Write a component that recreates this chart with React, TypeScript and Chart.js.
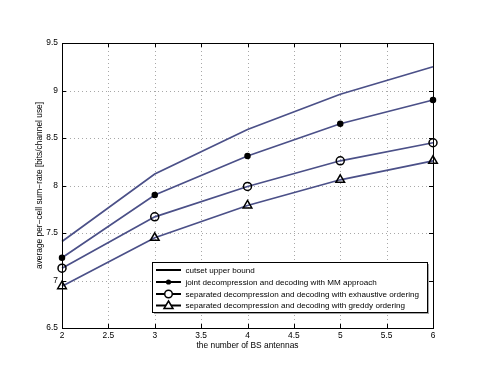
import React, { useEffect, useRef } from "react";
import { Chart, registerables } from "chart.js";
Chart.register(...registerables);

const antennas = [2, 3, 4, 5, 6];
const cutset = [7.41, 8.12, 8.59, 8.96, 9.25];
const jointMM = [7.24, 7.9, 8.31, 8.65, 8.9];
const sepExhaustive = [7.13, 7.67, 7.99, 8.26, 8.45];
const sepGreedy = [6.94, 7.45, 7.79, 8.06, 8.26];
const seriesLabels = [
  "cutset upper bound",
  "joint decompression and decoding with MM approach",
  "separated decompression and decoding with exhaustive ordering",
  "separated decompression and decoding with greddy ordering",
];
const xTitle = "the number of BS antennas";
const yTitle = "average per\u2212cell sum\u2212rate [bits/channel use]";

const FONT = "'Liberation Sans', Arial, Helvetica, sans-serif";
const FS = 8.4;
const LFS = 8.1;
const LINE = "#4b5088";

const toPts = (ys: number[]) => antennas.map((x, i) => ({ x, y: ys[i] }));

const gridPlugin = {
  id: "dottedGrid",
  beforeDatasetsDraw(chart: any) {
    const { ctx, chartArea: a, scales } = chart;
    ctx.save();
    ctx.strokeStyle = "#a8a8a8";
    ctx.lineWidth = 1;
    ctx.setLineDash([1, 3]);
    ctx.beginPath();
    scales.x.ticks.forEach((t: any) => {
      const px = Math.round(scales.x.getPixelForValue(t.value)) + 0.5;
      ctx.moveTo(px, a.top); ctx.lineTo(px, a.bottom);
    });
    scales.y.ticks.forEach((t: any) => {
      const py = Math.round(scales.y.getPixelForValue(t.value)) + 0.5;
      ctx.moveTo(a.left, py); ctx.lineTo(a.right, py);
    });
    ctx.stroke();
    ctx.restore();
  },
};

const framePlugin = {
  id: "frame",
  afterDraw(chart: any) {
    const { ctx, chartArea: a, scales } = chart;
    ctx.save();
    ctx.strokeStyle = "#000";
    ctx.lineWidth = 1;
    ctx.strokeRect(Math.round(a.left) + 0.5, Math.round(a.top) + 0.5, Math.round(a.right - a.left), Math.round(a.bottom - a.top));
    const tl = 4;
    ctx.beginPath();
    scales.x.ticks.forEach((t: any) => {
      const px = Math.round(scales.x.getPixelForValue(t.value)) + 0.5;
      ctx.moveTo(px, a.bottom); ctx.lineTo(px, a.bottom - tl);
      ctx.moveTo(px, a.top); ctx.lineTo(px, a.top + tl);
    });
    scales.y.ticks.forEach((t: any) => {
      const py = Math.round(scales.y.getPixelForValue(t.value)) + 0.5;
      ctx.moveTo(a.left, py); ctx.lineTo(a.left + tl, py);
      ctx.moveTo(a.right, py); ctx.lineTo(a.right - tl, py);
    });
    ctx.stroke();

    // legend
    const lx = 152, ly = 262, lw = 275, lh = 50;
    ctx.fillStyle = "rgba(0,0,0,0.35)";
    ctx.fillRect(lx + 2, ly + 2, lw, lh);
    ctx.fillStyle = "#fff";
    ctx.fillRect(lx, ly, lw, lh);
    ctx.strokeStyle = "#000";
    ctx.strokeRect(lx + 0.5, ly + 0.5, lw, lh);
    ctx.font = `${LFS}px ${FONT}`;
    ctx.textBaseline = "middle";
    const rows = [270, 282, 294, 305.5];
    chart.data.datasets.forEach((ds: any, i: number) => {
      const y = rows[i];
      ctx.strokeStyle = "#000";
      ctx.lineWidth = 2;
      ctx.beginPath();
      ctx.moveTo(156, y); ctx.lineTo(181, y);
      ctx.stroke();
      ctx.lineWidth = 1.5;
      const cx = 168.5;
      if (i === 1) {
        ctx.fillStyle = "#000";
        ctx.beginPath(); ctx.arc(cx, y, 2.6, 0, Math.PI * 2); ctx.fill();
      } else if (i === 2) {
        ctx.fillStyle = "#fff";
        ctx.beginPath(); ctx.arc(cx, y, 3.8, 0, Math.PI * 2); ctx.fill(); ctx.stroke();
      } else if (i === 3) {
        ctx.fillStyle = "#fff";
        ctx.beginPath();
        ctx.moveTo(cx, y - 4.5); ctx.lineTo(cx + 4.5, y + 3); ctx.lineTo(cx - 4.5, y + 3); ctx.closePath();
        ctx.fill(); ctx.stroke();
      }
      ctx.fillStyle = "#000";
      ctx.fillText(ds.label, 185.5, y + 0.5);
    });
    ctx.restore();
  },
};

export default function App() {
  const ref = useRef<HTMLCanvasElement>(null);
  useEffect(() => {
    document.body.style.margin = "0";
    const common = { borderColor: LINE, borderWidth: 1.7, tension: 0, pointBorderColor: "#000", pointBorderWidth: 1.5, clip: false };
    const fmt = (v: any) => String(Number(v));
    const chart = new Chart(ref.current!, {
      type: "line",
      data: {
        datasets: [
          { ...common, label: seriesLabels[0], data: toPts(cutset), pointRadius: 0 },
          { ...common, label: seriesLabels[1], data: toPts(jointMM), pointRadius: 2.5, pointStyle: "circle", pointBackgroundColor: "#000" },
          { ...common, label: seriesLabels[2], data: toPts(sepExhaustive), pointRadius: 4, pointStyle: "circle", pointBackgroundColor: "rgba(0,0,0,0)" },
          { ...common, label: seriesLabels[3], data: toPts(sepGreedy), pointRadius: 5, pointStyle: "triangle", pointBackgroundColor: "rgba(0,0,0,0)" },
        ],
      },
      options: {
        animation: false,
        responsive: false,
        layout: { padding: { left: 0, right: 46, top: 43, bottom: 0 } },
        plugins: { legend: { display: false }, tooltip: { enabled: false } },
        scales: {
          x: {
            type: "linear",
            min: 2,
            max: 6,
            afterFit: (s: any) => { s.height = 42; },
            ticks: { stepSize: 0.5, color: "#000", font: { family: FONT, size: FS }, padding: 3, maxRotation: 0, callback: fmt },
            grid: { display: false, drawTicks: false },
            border: { display: false },
            title: { display: true, text: xTitle, color: "#000", font: { family: FONT, size: FS }, padding: { top: 0, bottom: 19 } },
          },
          y: {
            type: "linear",
            min: 6.5,
            max: 9.5,
            afterFit: (s: any) => { s.width = 62; },
            ticks: { stepSize: 0.5, color: "#000", font: { family: FONT, size: FS }, padding: 4, callback: fmt },
            grid: { display: false, drawTicks: false },
            border: { display: false },
            title: { display: true, text: yTitle, color: "#000", font: { family: FONT, size: FS }, padding: { top: 35, bottom: 0 } },
          },
        },
      },
      plugins: [gridPlugin, framePlugin],
    } as any);
    return () => chart.destroy();
  }, []);
  return (
    <div style={{ width: 479, height: 370 }}>
      <canvas ref={ref} width={479} height={370} style={{ display: "block" }} />
    </div>
  );
}
